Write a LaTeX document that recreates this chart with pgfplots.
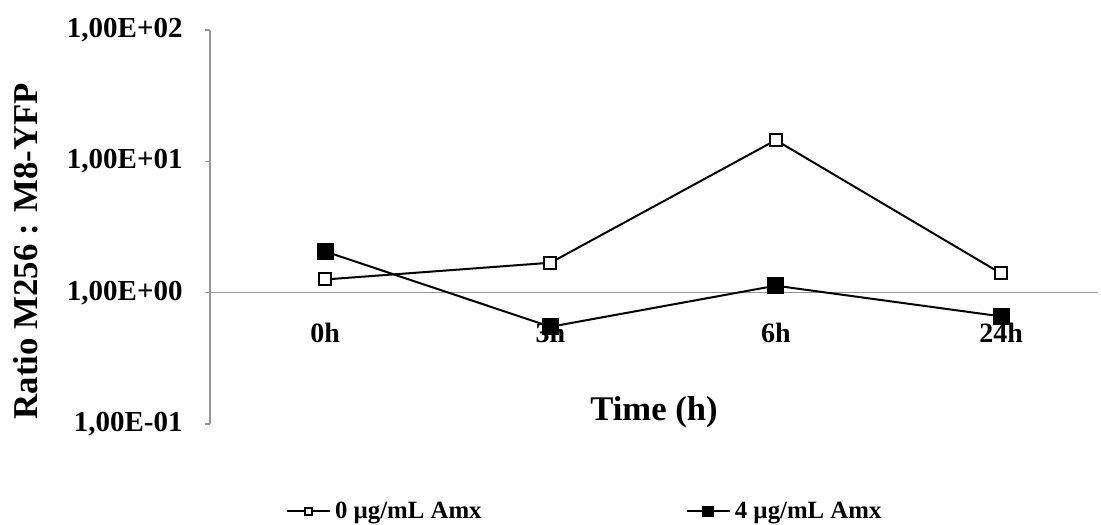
\documentclass[border=0pt]{standalone}
\usepackage{fontspec}
\setmainfont{Liberation Serif}
\usepackage{pgfplots}
\pgfplotsset{compat=1.18}
\definecolor{axgray}{RGB}{150,150,150}
\begin{document}
\begin{tikzpicture}
\begin{axis}[
  name=ax,
  scale only axis, width=444pt, height=197pt,
  ymode=log, ymin=0.1, ymax=100,
  xmin=-0.511, xmax=3.43,
  axis x line*=middle, axis y line*=left,
  axis line style={axgray, line width=0.7pt},
  clip=false,
  xtick={0,1,2,3},
  xticklabels={0h,3h,6h,24h},
  xtick style={draw=none},
  xticklabel style={font=\fontsize{14}{16}\selectfont\bfseries, anchor=north, inner sep=0pt, yshift=-12.5pt},
  ytick={0.1,1,10,100},
  yticklabels={{1,00E-01},{1,00E+00},{1,00E+01},{1,00E+02}},
  yminorticks=false,
  ytick style={axgray, line width=0.7pt},
  tick align=outside,
  major tick length=2.5pt,
  yticklabel style={font=\fontsize{14.5}{17}\selectfont\bfseries, anchor=east, inner sep=0pt, xshift=-11pt},
  ylabel={Ratio M256 : M8-YFP},
  ylabel style={at={(axis description cs:-0.2072,0.439)}, anchor=center, font=\fontsize{17.4}{20}\selectfont\bfseries},
  xlabel={Time (h)},
  xlabel style={at={(axis description cs:0.5,0.03)}, anchor=center, font=\fontsize{17.3}{20}\selectfont\bfseries},
  legend columns=2,
  legend style={at={(axis description cs:0.423,-0.222)}, anchor=center, draw=none, fill=none,
    font=\fontsize{12.4}{14}\selectfont\bfseries,
    /tikz/every even column/.append style={column sep=100pt}},
  legend image code/.code={\draw[mark repeat=2,mark phase=2,every mark/.append style={scale=0.65}] plot coordinates {(0cm,0cm)(0.38cm,0cm)(0.76cm,0cm)};},
]
\addplot[black, line width=1pt, mark=square*, mark size=3pt, mark options={fill=white, line width=1pt}]
  coordinates {(0,1.26) (1,1.69) (2,14.5) (3,1.40)};
\addlegendentry{0 µg/mL Amx}
\addplot[black, line width=1pt, mark=square*, mark size=3.9pt, mark options={fill=black, line width=0.8pt, rounded corners=1pt}]
  coordinates {(0,2.06) (1,0.55) (2,1.13) (3,0.66)};
\addlegendentry{4 µg/mL Amx}
\end{axis}
\pgfresetboundingbox
\path ([shift={(-105pt,-50pt)}]ax.south west) rectangle ([shift={(1.5pt,15pt)}]ax.north east);
\end{tikzpicture}
\end{document}
